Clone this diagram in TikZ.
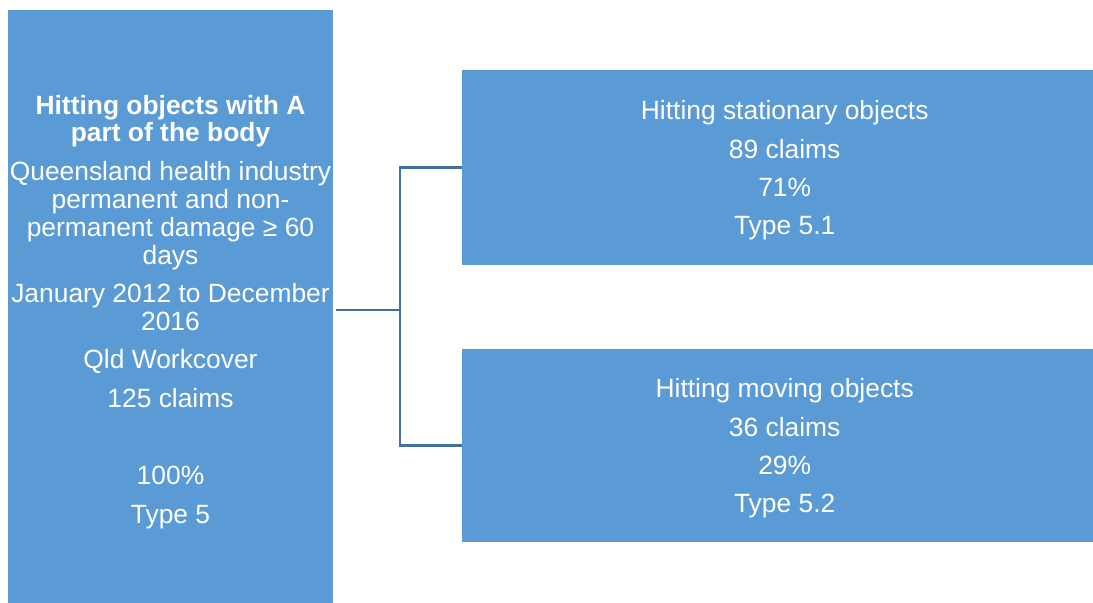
\documentclass[tikz,border=0pt]{standalone}
\usepackage{fontspec}
\setmainfont{Liberation Sans}
\usetikzlibrary{fit}
\definecolor{boxblue}{RGB}{91,155,213}
\definecolor{linkblue}{RGB}{65,113,156}
\tikzset{
  box/.style={fill=boxblue, draw=none, inner sep=0pt},
  label text/.style={text=white, align=center, inner sep=0pt,
    font=\fontsize{19.8pt}{20.8pt}\selectfont},
  conn/.style={draw=linkblue, line width=1.6pt}
}
\begin{document}
\begin{tikzpicture}[x=0.75pt, y=-0.75pt]
  \useasboundingbox[fill=white] (0,0) rectangle (1093,603);

  % source box on the left
  \node[box, fit={(8,10) (333,603)}] (src) {};
  \node[label text] (srcText) at ([yshift=-4.1pt]src.center) {%
    \textbf{Hitting objects with A}\\
    \textbf{part of the body}\\[8.4pt]
    Queensland health industry\\
    permanent and non-\\
    permanent damage ≥ 60\\
    days\\[8.1pt]
    January 2012 to December\\
    2016\\[8.1pt]
    Qld Workcover\\[8.1pt]
    125 claims\\[37pt]
    100\%\\[8.4pt]
    Type 5};

  % the two branches on the right
  \node[box, fit={(462,70) (1093,265)}] (a) {};
  \node[label text] (aText) at ([xshift=5.4pt,yshift=-2.2pt]a.center) {%
    Hitting stationary objects\\[7.9pt]
    89 claims\\[7.9pt]
    71\%\\[7.9pt]
    Type 5.1};
  \node[box, fit={(462,349) (1093,542)}] (b) {};
  \node[label text] (bText) at ([xshift=5.4pt,yshift=-2.2pt]b.center) {%
    Hitting moving objects\\[7.9pt]
    36 claims\\[7.9pt]
    29\%\\[7.9pt]
    Type 5.2};

  % bracket connector
  \coordinate (stem) at (336,310);
  \coordinate (j) at (400,310);
  \draw[conn] (stem) -- (j);
  \draw[conn] (a.west) -| (j) |- (b.west);
\end{tikzpicture}
\end{document}
